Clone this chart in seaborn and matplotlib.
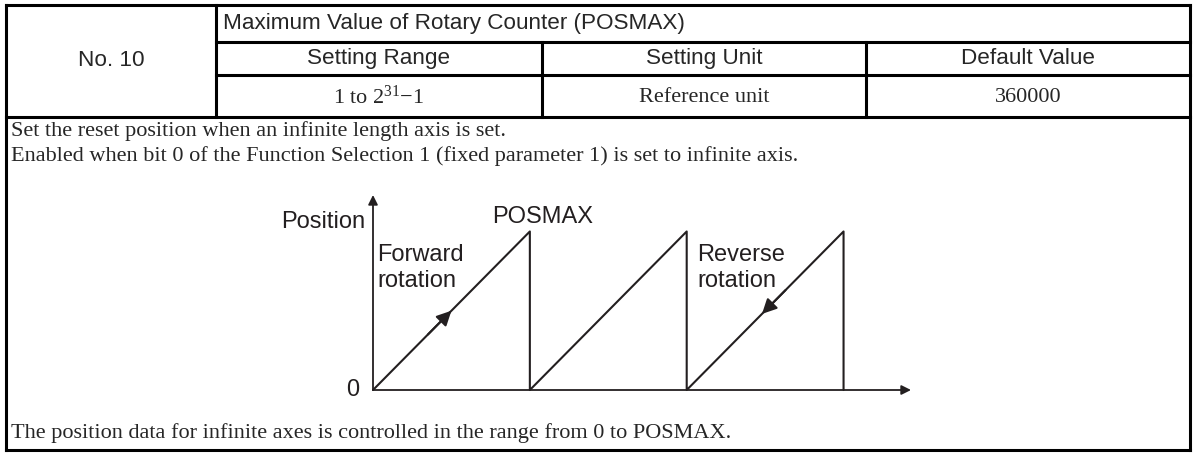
import matplotlib
matplotlib.use("Agg")
import matplotlib.pyplot as plt
import seaborn as sns
import pandas as pd

# ---- data ----
param_no = "No. 10"
title = "Maximum Value of Rotary Counter (POSMAX)"
headers = ["Setting Range", "Setting Unit", "Default Value"]
values = ["1 to 2$^{31}$\u22121", "Reference unit", "360000"]
desc_top = ["Set the reset position when an infinite length axis is set.",
            "Enabled when bit 0 of the Function Selection 1 (fixed parameter 1) is set to infinite axis."]
desc_bottom = "The position data for infinite axes is controlled in the range from 0 to POSMAX."

# sawtooth of the rotary counter: position vs time (cycles), POSMAX = 1
saw_time = [0, 1, 1, 2, 2, 3, 3]
saw_pos = [0, 1, 0, 1, 0, 1, 0]
fwd_arrow = (0.50, 0.50)   # arrow on first ramp (forward)
rev_arrow = (2.48, 0.48)   # arrow on third ramp (reverse)

sns.set_theme(style="white")
plt.rcParams["font.family"] = ["Liberation Sans", "DejaVu Sans"]
plt.rcParams["mathtext.default"] = "regular"

W, H = 1193, 453
fig = plt.figure(figsize=(W / 100, H / 100), dpi=100)
fig.patch.set_facecolor("white")

tab = fig.add_axes([0, 0, 1, 1])
tab.set_xlim(0, W)
tab.set_ylim(H, 0)
tab.axis("off")

lw = 2.2
L, R, T, B = 6, 1190, 5, 450
c1, c2, c3 = 216, 542, 866
r1, r2, r3 = 42, 75, 117
segs = [
    ((L, R), (T, T)), ((L, R), (B, B)), ((L, L), (T, B)), ((R, R), (T, B)),
    ((c1, R), (r1, r1)), ((c1, R), (r2, r2)), ((L, R), (r3, r3)),
    ((c1, c1), (T, r3)), ((c2, c2), (r1, r3)), ((c3, c3), (r1, r3)),
]
for xs, ys in segs:
    tab.plot(xs, ys, color="black", lw=lw, solid_capstyle="projecting")

sans = ["Liberation Sans", "DejaVu Sans"]
serif = ["Liberation Serif", "DejaVu Serif"]
fs_sans = 16.2
fs_serif = 16.0

tab.text((L + c1) / 2, (T + r3) / 2, param_no, ha="center", va="center",
         fontsize=fs_sans, family=sans)
tab.text(c1 + 7, (T + r1) / 2, title, ha="left", va="center",
         fontsize=fs_sans, family=sans)
centers = [(c1 + c2) / 2, (c2 + c3) / 2, (c3 + R) / 2]
for cx, h, v in zip(centers, headers, values):
    tab.text(cx, (r1 + r2) / 2, h, ha="center", va="center",
             fontsize=fs_sans, family=sans)
    tab.text(cx, (r2 + r3) / 2 + 1, v, ha="center", va="center",
             fontsize=fs_serif, family=serif)
tab.text(11, 131, desc_top[0], ha="left", va="center", fontsize=fs_serif, family=serif)
tab.text(11, 156, desc_top[1], ha="left", va="center", fontsize=fs_serif, family=serif)
tab.text(11, 433, desc_bottom, ha="left", va="center", fontsize=fs_serif, family=serif)

# ---- diagram ----
x0, x1, y0, y1 = 373, 911, 390, 195
ax = fig.add_axes([x0 / W, (H - y0) / H, (x1 - x0) / W, (y0 - y1) / H])
ax.set_xlim(0, 3.43)
ax.set_ylim(0, 1.23)
ax.axis("off")
dk = "#231f20"
df = pd.DataFrame({"t": saw_time, "p": saw_pos})
sns.lineplot(data=df, x="t", y="p", sort=False, estimator=None, color=dk,
             lw=1.5, ax=ax, legend=False)
ax.lines[-1].set_clip_on(False)

ax.annotate("", xy=(3.43, 0), xytext=(0, 0), annotation_clip=False,
            arrowprops=dict(arrowstyle="-|>", color=dk, lw=1.3,
                            mutation_scale=14, shrinkA=0, shrinkB=0))
ax.annotate("", xy=(0, 1.23), xytext=(0, 0), annotation_clip=False,
            arrowprops=dict(arrowstyle="-|>", color=dk, lw=1.3,
                            mutation_scale=14, shrinkA=0, shrinkB=0))
fx, fy = fwd_arrow
ax.annotate("", xy=(fx, fy), xytext=(fx - 0.15, fy - 0.15), annotation_clip=False,
            arrowprops=dict(arrowstyle="-|>", color=dk, lw=1.5,
                            mutation_scale=22, shrinkA=0, shrinkB=0))
rx, ry = rev_arrow
ax.annotate("", xy=(rx, ry), xytext=(rx + 0.15, ry + 0.15), annotation_clip=False,
            arrowprops=dict(arrowstyle="-|>", color=dk, lw=1.5,
                            mutation_scale=22, shrinkA=0, shrinkB=0))

fd = 17
ax.text(-0.05, 1.06, "Position", ha="right", va="center", fontsize=fd, color=dk, family=sans)
ax.text(-0.13, 0.0, "0", ha="center", va="center", fontsize=fd, color=dk, family=sans)
ax.text(1.08, 1.09, "POSMAX", ha="center", va="center", fontsize=fd, color=dk, family=sans)
ax.text(0.025, 0.77, "Forward\nrotation", ha="left", va="center", fontsize=fd,
        color=dk, family=sans, linespacing=1.2)
ax.text(2.065, 0.77, "Reverse\nrotation", ha="left", va="center", fontsize=fd,
        color=dk, family=sans, linespacing=1.2)

fig.savefig("out.png", dpi=100, facecolor="white")
